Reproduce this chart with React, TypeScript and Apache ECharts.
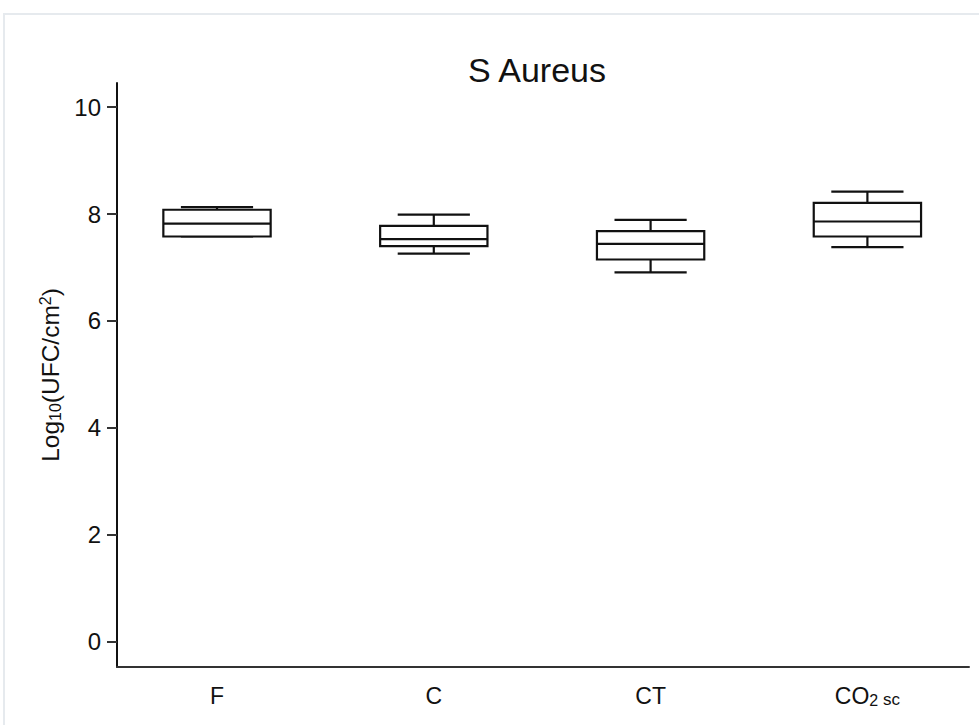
import React, { useEffect, useRef } from "react";
import * as echarts from "echarts";

const categories = ["F", "C", "CT", "CO2sc"];
const minValues = [7.58, 7.26, 6.91, 7.38];
const q1Values = [7.58, 7.4, 7.15, 7.58];
const medianValues = [7.82, 7.53, 7.44, 7.86];
const q3Values = [8.08, 7.78, 7.68, 8.21];
const maxValues = [8.13, 7.99, 7.89, 8.42];
const yTicks = [0, 2, 4, 6, 8, 10];

const FONT = "'Liberation Sans', Arial, Helvetica, sans-serif";
const INK = "#111111";

export default function App() {
  const ref = useRef<HTMLDivElement>(null);

  useEffect(() => {
    if (!ref.current) return;
    const chart = echarts.init(ref.current, undefined, { renderer: "svg" });

    const boxData = categories.map((_, i) => [
      i,
      minValues[i],
      q1Values[i],
      medianValues[i],
      q3Values[i],
      maxValues[i],
    ]);

    const option: any = {
      animation: false,
      backgroundColor: "#ffffff",
      textStyle: { fontFamily: FONT, color: INK },
      title: {
        text: "S Aureus",
        left: 532,
        top: 48,
        textAlign: "center",
        textStyle: { fontFamily: FONT, fontSize: 34, fontWeight: "normal", color: INK },
      },
      graphic: [
        {
          type: "rect",
          silent: true,
          shape: { x: 4, y: 14, width: 1100, height: 900 },
          style: { fill: "none", stroke: "#e6eaee", lineWidth: 2 },
        },
      ],
      grid: [
        { left: 117, right: 10, top: 83, bottom: 58 },
        { left: 108.6, width: 867.2, top: 83, bottom: 58 },
      ],
      xAxis: [
        {
          gridIndex: 0,
          type: "value",
          min: 0,
          max: 1,
          axisLine: { show: true, onZero: false, lineStyle: { color: "#333333", width: 2 } },
          axisTick: { show: false },
          axisLabel: { show: false },
          splitLine: { show: false },
        },
        {
          gridIndex: 1,
          type: "category",
          data: categories,
          boundaryGap: true,
          axisLine: { show: false },
          axisTick: { show: false },
          splitLine: { show: false },
          axisLabel: {
            interval: 0,
            margin: 17,
            fontFamily: FONT,
            fontSize: 23,
            color: INK,
            formatter: (v: string) => (v === "CO2sc" ? "{base|CO}{sub|2}{sc| sc}" : v),
            rich: {
              base: { fontSize: 23, fontFamily: FONT, color: INK },
              sub: { fontSize: 16, fontFamily: FONT, color: INK, verticalAlign: "bottom", padding: [8, 0, 0, 0] },
              sc: { fontSize: 17, fontFamily: FONT, color: INK, verticalAlign: "bottom", padding: [6, 0, 0, 0] },
            },
          },
        },
      ],
      yAxis: [
        {
          gridIndex: 0,
          type: "value",
          min: -0.47,
          max: 10.45,
          name: "{base|Log}{sub|10}{base|(UFC/cm}{sup|2}{base|)}",
          nameLocation: "middle",
          nameGap: 54,
          nameTextStyle: {
            fontFamily: FONT,
            fontSize: 24.5,
            color: INK,
            rich: {
              base: { fontSize: 24.5, fontFamily: FONT, color: INK },
              sub: { fontSize: 16, fontFamily: FONT, color: INK, verticalAlign: "bottom", padding: [9, 0, 0, 0] },
              sup: { fontSize: 16, fontFamily: FONT, color: INK, verticalAlign: "top", padding: [0, 0, 10, 0] },
            },
          },
          axisLine: { show: true, onZero: false, lineStyle: { color: INK, width: 2 } },
          axisTick: { show: true, length: 10, customValues: yTicks, lineStyle: { color: "#333333", width: 2 } },
          axisLabel: { customValues: yTicks, margin: 16, fontFamily: FONT, fontSize: 24, color: INK },
          splitLine: { show: false },
        },
        {
          gridIndex: 1,
          type: "value",
          min: -0.47,
          max: 10.45,
          show: false,
          splitLine: { show: false },
        },
      ],
      series: [
        {
          type: "custom",
          xAxisIndex: 1,
          yAxisIndex: 1,
          data: boxData,
          encode: { x: 0, y: [1, 2, 3, 4, 5] },
          renderItem: (params: any, api: any) => {
            const x = api.value(0);
            const lo = api.coord([x, api.value(1)]);
            const q1 = api.coord([x, api.value(2)]);
            const med = api.coord([x, api.value(3)]);
            const q3 = api.coord([x, api.value(4)]);
            const hi = api.coord([x, api.value(5)]);
            const band = api.size([1, 0])[0];
            const bw = band * 0.495;
            const cw = band * 0.333;
            const cx = lo[0];
            const st = { stroke: INK, lineWidth: 2.2, fill: "none" };
            const line = (x1: number, y1: number, x2: number, y2: number) => ({
              type: "line",
              shape: { x1, y1, x2, y2 },
              style: st,
            });
            return {
              type: "group",
              children: [
                line(cx, q3[1], cx, hi[1]),
                line(cx - cw / 2, hi[1], cx + cw / 2, hi[1]),
                line(cx, q1[1], cx, lo[1]),
                line(cx - cw / 2, lo[1], cx + cw / 2, lo[1]),
                {
                  type: "rect",
                  shape: { x: cx - bw / 2, y: q3[1], width: bw, height: q1[1] - q3[1] },
                  style: { stroke: INK, lineWidth: 2.2, fill: "#ffffff" },
                },
                line(cx - bw / 2, med[1], cx + bw / 2, med[1]),
              ],
            };
          },
        },
      ],
    };

    chart.setOption(option);
    return () => chart.dispose();
  }, []);

  return (
    <div
      ref={ref}
      style={{ position: "absolute", left: 0, top: 0, width: 979, height: 725 }}
    />
  );
}
